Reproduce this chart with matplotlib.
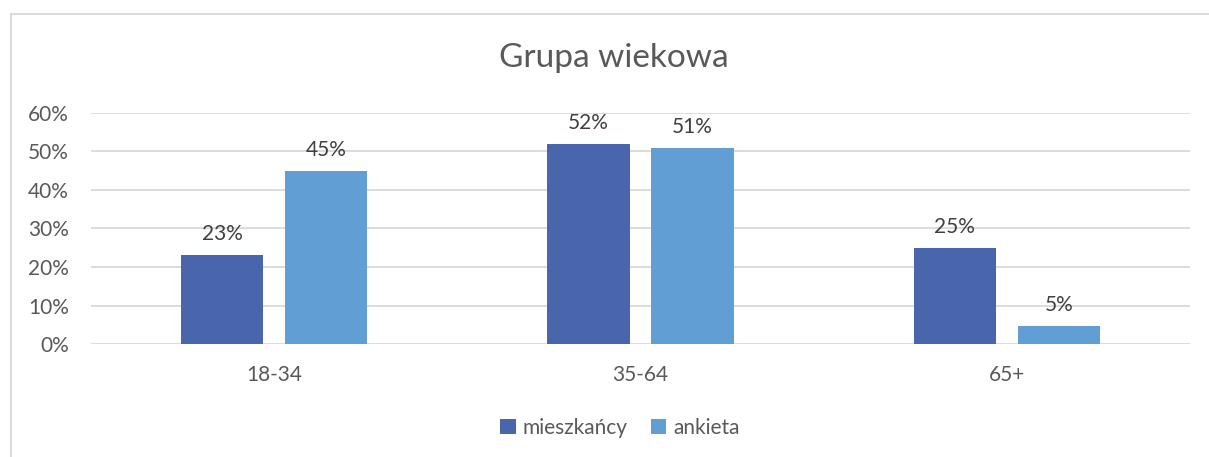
import numpy as np
import matplotlib.pyplot as plt
from matplotlib.lines import Line2D

plt.rcParams['font.family'] = ['Lato', 'DejaVu Sans']

categories = ["18-34", "35-64", "65+"]
series_names = ["mieszkańcy", "ankieta"]
mieszkancy = [0.23, 0.52, 0.25]
ankieta = [0.45, 0.51, 0.047]
yticks = [0, 0.1, 0.2, 0.3, 0.4, 0.5, 0.6]

dark = "#4966AD"
light = "#609ED3"
txt = "#595959"

W, H = 1209, 457
fig = plt.figure(figsize=(W / 100, H / 100), dpi=100)
ax = fig.add_axes([91 / W, 113 / H, (1190 - 91) / W, 231 / H])

x = np.arange(len(categories))
bw = 0.224
off = 0.142
b1 = ax.bar(x - off, mieszkancy, bw, color=dark, label=series_names[0], zorder=3)
b2 = ax.bar(x + off, ankieta, bw, color=light, label=series_names[1], zorder=3)

for bars in (b1, b2):
    for r in bars:
        v = r.get_height()
        ax.annotate(f"{round(v * 100):.0f}%", (r.get_x() + r.get_width() / 2, v),
                    xytext=(0, 8), textcoords="offset points",
                    ha="center", va="bottom", fontsize=15, color="#404040")

ax.set_xlim(-0.5, 2.5)
ax.set_ylim(0, 0.6)
ax.set_yticks(yticks)
ax.set_yticklabels([f"{int(round(t * 100))}%" for t in yticks])
ax.set_xticks(x)
ax.set_xticklabels(categories)
ax.tick_params(axis="both", length=0, labelsize=15, labelcolor=txt)
ax.tick_params(axis="x", pad=15)
ax.tick_params(axis="y", pad=16)
ax.grid(axis="y", color="#D9D9D9", linewidth=1.3, zorder=0)
for s in ax.spines.values():
    s.set_visible(False)

fig.text(614 / W, 1 - 58 / H, "Grupa wiekowa", ha="center", va="center",
         fontsize=24, color=txt)

fig.legend(handles=[b1, b2], labels=series_names, loc="center",
           bbox_to_anchor=(620 / W, 1 - 428 / H), ncol=2, frameon=False,
           fontsize=15, labelcolor=txt, handlelength=0.75, handleheight=0.75,
           handletextpad=0.35, columnspacing=1.1)

fig.add_artist(Line2D([10.5 / W, 10.5 / W], [0, 1 - 13.5 / H], transform=fig.transFigure,
                      color="#D9D9D9", linewidth=1.3))
fig.add_artist(Line2D([10.5 / W, 1], [1 - 13.5 / H, 1 - 13.5 / H], transform=fig.transFigure,
                      color="#D9D9D9", linewidth=1.3))

fig.savefig("out.png", dpi=100)
